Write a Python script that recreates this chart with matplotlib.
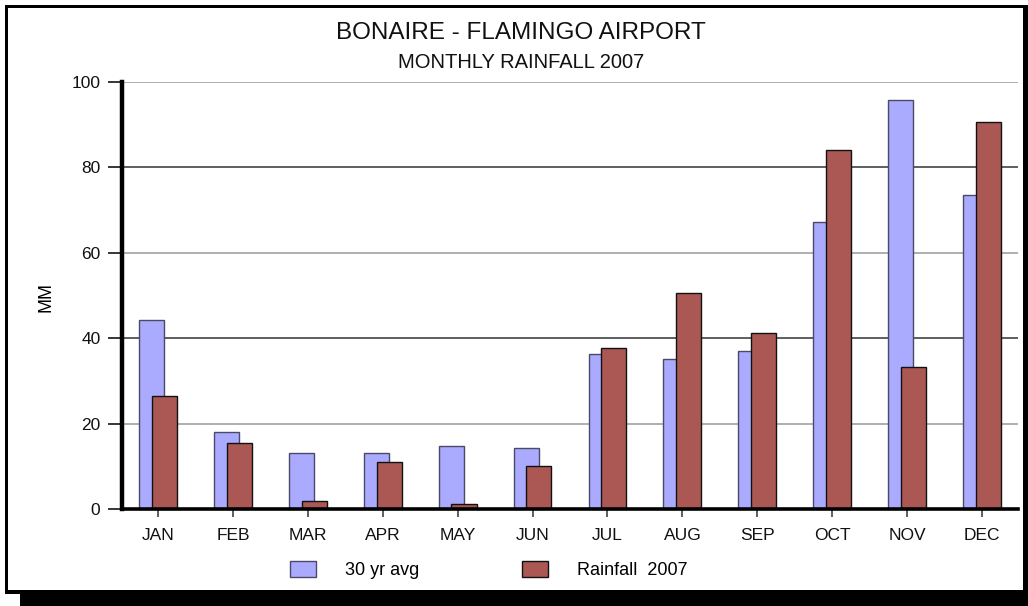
import matplotlib
matplotlib.use("Agg")
import matplotlib.pyplot as plt
from matplotlib.patches import Rectangle
import numpy as np

plt.rcParams['font.family'] = ['Liberation Sans', 'DejaVu Sans']

months = ["JAN", "FEB", "MAR", "APR", "MAY", "JUN", "JUL", "AUG", "SEP", "OCT", "NOV", "DEC"]
avg30 = [44.3, 18.1, 13.0, 13.0, 14.7, 14.4, 36.3, 35.1, 37.0, 67.2, 95.9, 73.5]
rain2007 = [26.5, 15.5, 1.9, 11.1, 1.2, 10.1, 37.7, 50.6, 41.2, 84.0, 33.3, 90.6]
yticks = [0, 20, 40, 60, 80, 100]
title = "BONAIRE - FLAMINGO AIRPORT"
subtitle = "MONTHLY RAINFALL 2007"
series_names = ["30 yr avg", "Rainfall  2007"]

W, H = 1028, 606
fig = plt.figure(figsize=(W / 100, H / 100), dpi=100)

def fx(x):
    return x / W

def fy(y):
    return 1 - y / H

ax = fig.add_axes([fx(122), fy(509), fx(1018) - fx(122), fy(82) - fy(509)])

x = np.arange(len(months))
bw = 0.334
off = 0.085
b1 = ax.bar(x - off, avg30, width=bw, color="#AAAAFF", edgecolor="#4a4a66",
            linewidth=1.0, zorder=2, label=series_names[0])
b2 = ax.bar(x + off, rain2007, width=bw, color="#AB5855", edgecolor="#111111",
            linewidth=1.0, zorder=3, label=series_names[1])

ax.set_xlim(-0.48, 11.48)
ax.set_ylim(0, 100)
ax.set_xticks(x)
ax.set_xticklabels(months, fontsize=12.5, color="#111111")
ax.set_yticks(yticks)
ax.set_yticklabels([str(v) for v in yticks], fontsize=12.5, color="#111111")

ax.set_axisbelow(True)
ax.yaxis.grid(True, linewidth=1.1)
grid_colors = ["#333333", "#999999", "#333333", "#999999", "#333333", "#999999"]
for gl, c in zip(ax.get_ygridlines(), grid_colors):
    gl.set_color(c)
for tk, c in zip(ax.yaxis.get_major_ticks(), grid_colors):
    tk.tick1line.set_color(c)

ax.tick_params(axis="y", length=10, width=1.1, pad=5.5, direction="out")
ax.tick_params(axis="x", length=6, width=1.1, color="#333333", pad=7.5, direction="out")

for s in ["top", "right"]:
    ax.spines[s].set_visible(False)
ax.spines["left"].set_linewidth(3.2)
ax.spines["bottom"].set_linewidth(2.6)
ax.spines["left"].set_zorder(5)
ax.spines["bottom"].set_zorder(5)

fig.text(fx(46), fy(297), "MM", rotation=90, ha="center", va="center", fontsize=13)

fig.text(fx(521), fy(33), title, ha="center", va="center", fontsize=17.5, color="#111111")
fig.text(fx(521), fy(62), subtitle, ha="center", va="center", fontsize=14.5, color="#111111")

leg = fig.legend(handles=[b1, b2], labels=series_names, loc="center left",
                 bbox_to_anchor=(fx(290), fy(570)), ncol=2, frameon=False,
                 fontsize=13, handlelength=1.44, handleheight=1.0,
                 handletextpad=1.6, columnspacing=5.7, borderpad=0, borderaxespad=0)

# border frame with shadow
def rect(x0, y0, x1, y1):
    fig.add_artist(Rectangle((fx(x0), fy(y1)), fx(x1) - fx(x0), fy(y0) - fy(y1),
                             transform=fig.transFigure, facecolor="black",
                             edgecolor="none", zorder=10))

rect(5, 5, 8, 594)
rect(5, 5, 1028, 8)
rect(1023, 5, 1028, 606)
rect(5, 590, 1028, 594)
rect(20, 594, 1028, 606)

fig.savefig("out.png", dpi=100, facecolor="white")
